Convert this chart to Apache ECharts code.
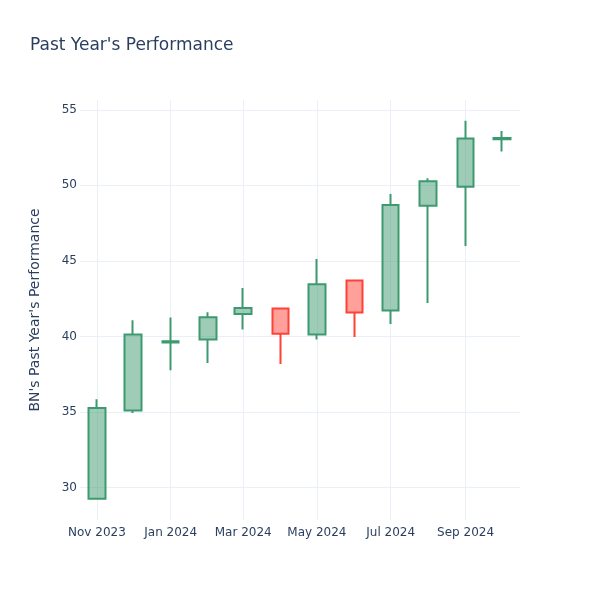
<!DOCTYPE html>
<html>
<head>
<meta charset="utf-8">
<script src="https://cdn.jsdelivr.net/npm/echarts@6/dist/echarts.min.js"></script>
<style>html,body{margin:0;padding:0;background:#fff;}#c{width:600px;height:600px;}</style>
</head>
<body>
<div id="c"></div>
<script>
var dates = ['2023-11-01','2023-12-01','2024-01-01','2024-02-01','2024-03-01','2024-04-01','2024-05-01','2024-06-01','2024-07-01','2024-08-01','2024-09-01','2024-10-01'];
var opens  = [29.25, 35.09, 39.60, 39.80, 41.49, 41.85, 40.13, 43.71, 41.72, 48.65, 49.91, 53.06];
var closes = [35.26, 40.13, 39.68, 41.27, 41.89, 40.17, 43.46, 41.58, 48.70, 50.27, 53.10, 53.13];
var lows   = [29.20, 34.93, 37.76, 38.24, 40.46, 38.18, 39.80, 39.97, 40.83, 42.22, 45.98, 52.24];
var highs  = [35.84, 41.07, 41.25, 41.60, 43.20, 41.85, 45.12, 43.71, 49.43, 50.47, 54.27, 53.60];

var data = dates.map(function (d, i) { return [d, opens[i], closes[i], lows[i], highs[i]]; });

var chart = echarts.init(document.getElementById('c'), null, {renderer: 'canvas'});
var textColor = '#2a3f5f';
var gridColor = '#EBF0F8';
var font = '"DejaVu Sans", Verdana, sans-serif';
var clear = 'rgba(0,0,0,0)';
chart.setOption({
  animation: false,
  backgroundColor: '#fff',
  textStyle: {fontFamily: font},
  title: {
    text: "Past Year's Performance",
    left: 25, top: 32,
    textStyle: {fontFamily: font, fontSize: 17, fontWeight: 'normal', color: textColor}
  },
  grid: {left: 80, right: 80, top: 100, bottom: 80, containLabel: false},
  xAxis: {
    type: 'time',
    min: '2023-10-18',
    max: '2024-10-16',
    splitNumber: 6,
    axisLine: {show: false},
    axisTick: {show: false},
    splitLine: {show: true, lineStyle: {color: [clear, gridColor, gridColor, gridColor, gridColor, gridColor, gridColor, clear], width: 1}},
    axisLabel: {
      formatter: '{MMM} {yyyy}',
      color: textColor, fontSize: 12, margin: 7,
      fontFamily: font,
      hideOverlap: false
    }
  },
  yAxis: {
    type: 'value',
    min: 27.85,
    max: 55.65,
    splitNumber: 5,
    name: "BN's Past Year's Performance",
    nameLocation: 'middle',
    nameGap: 38,
    nameTextStyle: {color: textColor, fontSize: 14, fontFamily: font},
    axisLine: {show: false},
    axisTick: {show: false},
    axisLabel: {
      color: textColor, fontSize: 12, margin: 3,
      fontFamily: font,
      showMinLabel: false, showMaxLabel: false
    },
    splitLine: {show: true, lineStyle: {color: [clear, gridColor, gridColor, gridColor, gridColor, gridColor, gridColor, clear], width: 1}}
  },
  series: [{
    type: 'candlestick',
    data: data,
    encode: {x: 0, y: [1, 2, 3, 4]},
    barWidth: 17,
    itemStyle: {
      color: 'rgba(61,153,112,0.5)',
      color0: 'rgba(255,65,54,0.5)',
      borderColor: '#3D9970',
      borderColor0: '#FF4136',
      borderWidth: 2
    }
  }]
});
</script>
</body>
</html>
